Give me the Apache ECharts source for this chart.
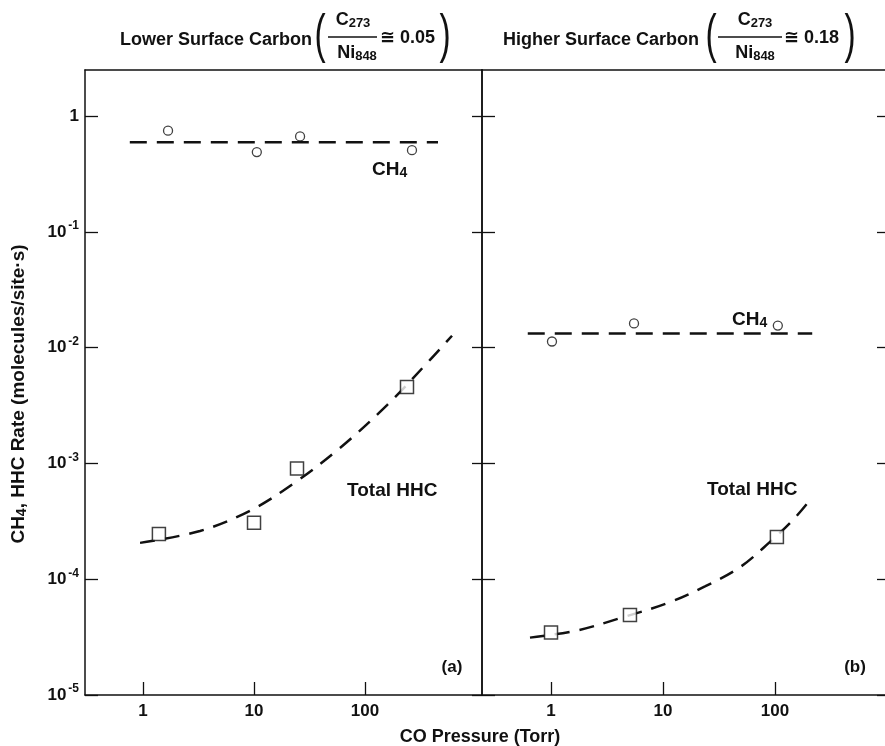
<!DOCTYPE html>
<html><head><meta charset="utf-8">
<script src="https://cdn.jsdelivr.net/npm/echarts@6/dist/echarts.min.js"></script>
<style>html,body{margin:0;padding:0;background:#fff}#c{width:885px;height:746px}</style>
</head><body><div id="c"></div>
<script>
// ---------- data ----------
const xTickValues = [1, 10, 100];
const yTickValues = [1e-5, 1e-4, 1e-3, 1e-2, 1e-1, 1];

// panel (a) lower surface carbon
const aCH4X = [1.68, 10.6, 26, 265];
const aCH4Y = [0.748, 0.489, 0.667, 0.508];
const aCH4FitX = [0.76, 455];
const aCH4FitY = [0.593, 0.593];
const aHHCX = [1.39, 10.0, 24.4, 239];
const aHHCY = [2.46e-4, 3.07e-4, 9.05e-4, 4.58e-3];
const aHHCFitX = [0.94, 3.26, 9.2, 23.4, 59.5, 158, 385, 608];
const aHHCFitY = [2.06e-4, 2.61e-4, 3.90e-4, 6.84e-4, 1.36e-3, 3.19e-3, 7.83e-3, 1.267e-2];

// panel (b) higher surface carbon
const bCH4X = [1.02, 5.51, 106];
const bCH4Y = [0.0113, 0.0162, 0.0155];
const bCH4FitX = [0.62, 215];
const bCH4FitY = [0.01325, 0.01325];
const bHHCX = [1.0, 5.07, 104];
const bHHCY = [3.47e-5, 4.9e-5, 2.32e-4];
const bHHCFitX = [0.649, 1.71, 4.13, 11.1, 23.7, 48.7, 90.2, 145, 193];
const bHHCFitY = [3.13e-5, 3.61e-5, 4.61e-5, 6.25e-5, 8.67e-5, 1.27e-4, 2.10e-4, 3.26e-4, 4.49e-4];

// ---------- chart ----------
const INK = '#111';
const FONT = '"Liberation Sans", Arial, "DejaVu Sans", sans-serif';
const pairs = (xs, ys) => xs.map((x, i) => [x, ys[i]]);

function xAx(grid, pos, min, max, ticks) {
  return {
    type: 'log', gridIndex: grid, position: pos, min: min, max: max, logBase: 10,
    axisLine: { show: true, lineStyle: { color: INK, width: 1.5 } },
    axisTick: ticks ? { show: true, inside: true, length: 13, lineStyle: { color: INK, width: 1.3 }, customValues: xTickValues } : { show: false },
    axisLabel: ticks ? { show: true, margin: 8, customValues: xTickValues, color: INK, fontFamily: FONT, fontWeight: 'bold', fontSize: 17,
      formatter: v => String(Math.round(v)) } : { show: false },
    splitLine: { show: false }, minorTick: { show: false }
  };
}
function yAx(grid, pos, opts) {
  const o = {
    type: 'log', gridIndex: grid, position: pos, min: 1e-5, max: 2.5, logBase: 10,
    axisLine: { show: opts.line !== false, lineStyle: { color: INK, width: 1.5 } },
    axisTick: { show: true, inside: true, length: opts.tick, lineStyle: { color: INK, width: 1.3 }, customValues: yTickValues },
    axisLabel: { show: false },
    splitLine: { show: false }, minorTick: { show: false }
  };
  if (opts.labels) {
    o.axisLabel = {
      show: true, margin: 6, customValues: yTickValues, color: INK,
      formatter: v => {
        const e = Math.round(Math.log10(v));
        return e === 0 ? '{b|1}' : '{b|10}{s|-' + (-e) + '}';
      },
      rich: {
        b: { fontFamily: FONT, fontWeight: 'bold', fontSize: 17, lineHeight: 24, color: INK },
        s: { fontFamily: FONT, fontWeight: 'bold', fontSize: 12, lineHeight: 12, verticalAlign: 'top', color: INK, padding: [0, 0, 0, 2] }
      }
    };
  }
  return o;
}

const dashFit = { color: INK, width: 2.5, type: [17, 10] };
const dashCurve = { color: INK, width: 2.5, type: [15, 10] };
const circleStyle = { color: '#fff', borderColor: INK, borderWidth: 1.3 };
const squareStyle = { color: '#fff', borderColor: INK, borderWidth: 1.5 };

function lineS(xi, yi, data, style, smooth) {
  return { type: 'line', xAxisIndex: xi, yAxisIndex: yi, data: data, showSymbol: false, symbol: 'none',
    smooth: smooth ? 0.35 : false, lineStyle: style, z: 2, silent: true, animation: false };
}
function scatS(xi, yi, data, sym, size, style) {
  return { type: 'scatter', xAxisIndex: xi, yAxisIndex: yi, data: data, symbol: sym, symbolSize: size,
    itemStyle: style, z: 3, silent: true, animation: false };
}

function mkRich(big, small) {
  return {
    m: { fontFamily: FONT, fontWeight: 'bold', fontSize: big, lineHeight: big + 2, color: INK },
    s: { fontFamily: FONT, fontWeight: 'bold', fontSize: small, lineHeight: small, verticalAlign: 'bottom', color: INK }
  };
}
const mRich = mkRich(18, 13);
const aRich = mkRich(19, 14);
function txt(x, y, text, align, size, rich) {
  const st = { x: x, y: y, text: text, align: align || 'left', verticalAlign: 'middle', fill: INK,
    font: 'bold ' + (size || 18) + 'px ' + FONT };
  if (rich) st.rich = rich;
  return { type: 'text', style: st, z: 10, silent: true };
}
function paren(x, ch) {
  return { type: 'text', x: x, y: 37, scaleX: 0.62, scaleY: 1,
    style: { x: 0, y: 0, text: ch, align: 'center', verticalAlign: 'middle', fill: INK,
    font: 'normal 54px ' + FONT }, z: 10, silent: true };
}
function fracLine(x1, x2) {
  return { type: 'line', shape: { x1: x1, y1: 37, x2: x2, y2: 37 }, style: { stroke: INK, lineWidth: 1.5 }, z: 10, silent: true };
}

const chart = echarts.init(document.getElementById('c'), null, { renderer: 'canvas' });
chart.setOption({
  backgroundColor: '#fff',
  animation: false,
  grid: [
    { left: 85, top: 70, width: 397, height: 625, containLabel: false },
    { left: 482, top: 70, width: 403, height: 625, containLabel: false }
  ],
  xAxis: [
    xAx(0, 'bottom', 0.3, 1133, true),
    xAx(0, 'top', 0.3, 1133, false),
    xAx(1, 'bottom', 0.242, 960, true),
    xAx(1, 'top', 0.242, 960, false)
  ],
  yAxis: [
    yAx(0, 'left', { tick: 13, labels: true }),
    yAx(0, 'right', { tick: 10 }),
    yAx(1, 'left', { tick: 13 }),
    yAx(1, 'right', { tick: 8, line: false })
  ],
  series: [
    lineS(0, 0, pairs(aCH4FitX, aCH4FitY), dashFit, false),
    lineS(0, 0, pairs(aHHCFitX, aHHCFitY), dashCurve, true),
    scatS(0, 0, pairs(aCH4X, aCH4Y), 'circle', 9, circleStyle),
    scatS(0, 0, pairs(aHHCX, aHHCY), 'rect', 13, squareStyle),
    lineS(2, 2, pairs(bCH4FitX, bCH4FitY), dashFit, false),
    lineS(2, 2, pairs(bHHCFitX, bHHCFitY), dashCurve, true),
    scatS(2, 2, pairs(bCH4X, bCH4Y), 'circle', 9, circleStyle),
    scatS(2, 2, pairs(bHHCX, bHHCY), 'rect', 13, squareStyle)
  ],
  graphic: [
    // titles
    txt(120, 40, 'Lower Surface Carbon'),
    paren(320, '('),
    txt(353, 20, '{m|C}{s|273}', 'center', 18, mRich),
    fracLine(328, 377),
    txt(357, 53, '{m|Ni}{s|848}', 'center', 18, mRich),
    txt(380, 38, '≅ 0.05'),
    paren(445, ')'),
    txt(503, 40, 'Higher Surface Carbon'),
    paren(711, '('),
    txt(755, 20, '{m|C}{s|273}', 'center', 18, mRich),
    fracLine(718, 782),
    txt(755, 53, '{m|Ni}{s|848}', 'center', 18, mRich),
    txt(784, 38, '≅ 0.18'),
    paren(850, ')'),
    // y axis title (rotated)
    { type: 'text', x: 19, y: 394, rotation: Math.PI / 2, silent: true, z: 10,
      style: { x: 0, y: 0, text: '{m|CH}{s|4}{m|, HHC Rate (molecules/site·s)}', align: 'center', verticalAlign: 'middle',
        fill: INK, rich: mkRich(19, 14) } },
    // annotations
    txt(372, 170, '{m|CH}{s|4}', 'left', 19, aRich),
    txt(732, 320, '{m|CH}{s|4}', 'left', 19, aRich),
    txt(347, 491, 'Total HHC', 'left', 19),
    txt(707, 490, 'Total HHC', 'left', 19),
    txt(452, 667, '(a)', 'center', 17),
    txt(855, 667, '(b)', 'center', 17),
    txt(480, 737, 'CO Pressure (Torr)', 'center', 18)
  ]
});
</script>
</body></html>
